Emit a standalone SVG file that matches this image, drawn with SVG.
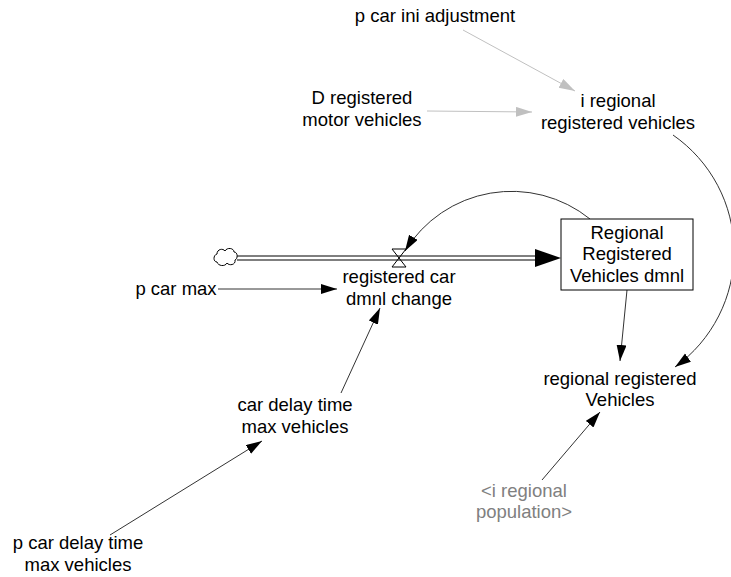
<svg xmlns="http://www.w3.org/2000/svg" width="731" height="577" viewBox="0 0 731 577">
<style>
text{font-family:"Liberation Sans",Arial,sans-serif;font-size:18.5px;fill:#000;text-anchor:middle}
.g{fill:#808080}
.l{fill:none;stroke:#333;stroke-width:1}
.lg{fill:none;stroke:#c0c0c0;stroke-width:1}
</style>
<defs>
<marker id="ab" markerUnits="userSpaceOnUse" markerWidth="18" markerHeight="12" refX="16" refY="5" orient="auto"><path d="M0,0 L16,5 L0,10 z" fill="#000"/></marker>
<marker id="ag" markerUnits="userSpaceOnUse" markerWidth="18" markerHeight="12" refX="16" refY="5" orient="auto"><path d="M0,0 L16,5 L0,10 z" fill="#c0c0c0"/></marker>
</defs>
<rect width="731" height="577" fill="#fff"/>
<g id="connectors">
<path class="lg" d="M463,30 L575,91" marker-end="url(#ag)"/>
<path class="lg" d="M427,111 L532,112" marker-end="url(#ag)"/>
<path class="l" d="M673,135 A142,142 0 0,1 675,367" marker-end="url(#ab)"/>
<path class="l" d="M590,219 A125,125 0 0,0 405,251" marker-end="url(#ab)"/>
<path class="l" d="M627,290 L620,361" marker-end="url(#ab)"/>
<path class="l" d="M218,289 L337,289" marker-end="url(#ab)"/>
<path class="l" d="M341,393 L380,308" marker-end="url(#ab)"/>
<path class="l" d="M110,535 L262,441" marker-end="url(#ab)"/>
<path class="l" d="M542,480 L600,412" marker-end="url(#ab)"/>
</g>
<g id="flow">
<path d="M237,256 L540,256 M237,260 L540,260" stroke="#000" stroke-width="1.2" fill="none"/>
<polygon points="561,258 535,249 535,267" fill="#000"/>
<polygon points="392,249 406,249 392,267 406,267" fill="none" stroke="#000" stroke-width="1"/>
</g>
<g id="cloud">
<path d="M217,262 C213,262 213,255 217,254 C217,249 223,248 225,251 C227,247 234,248 234,252 C238,252 238,259 235,260 C236,265 229,266 227,263 C225,267 218,266 217,262 Z" fill="#fff" stroke="#000" stroke-width="1"/>
</g>
<g id="p_car_ini_adjustment"><text x="435" y="22">p car ini adjustment</text></g>
<g id="D_registered_motor_vehicles"><text x="362" y="104">D registered</text><text x="362" y="126">motor vehicles</text></g>
<g id="i_regional_registered_vehicles"><text x="618" y="107">i regional</text><text x="618" y="129">registered vehicles</text></g>
<g id="Regional_Registered_Vehicles_dmnl">
<rect x="561" y="219" width="132" height="71" fill="#fff" stroke="#000" stroke-width="1"/>
<text x="627" y="239">Regional</text><text x="627" y="260">Registered</text><text x="627" y="282">Vehicles dmnl</text>
</g>
<g id="registered_car_dmnl_change"><text x="399" y="283">registered car</text><text x="399" y="305">dmnl change</text></g>
<g id="p_car_max"><text x="176" y="295">p car max</text></g>
<g id="regional_registered_Vehicles"><text x="620" y="385">regional registered</text><text x="620" y="406">Vehicles</text></g>
<g id="car_delay_time_max_vehicles"><text x="295" y="411">car delay time</text><text x="295" y="433">max vehicles</text></g>
<g id="i_regional_population"><text class="g" x="524" y="497">&lt;i regional</text><text class="g" x="524" y="518">population&gt;</text></g>
<g id="p_car_delay_time_max_vehicles"><text x="78" y="549">p car delay time</text><text x="78" y="571">max vehicles</text></g>
</svg>
